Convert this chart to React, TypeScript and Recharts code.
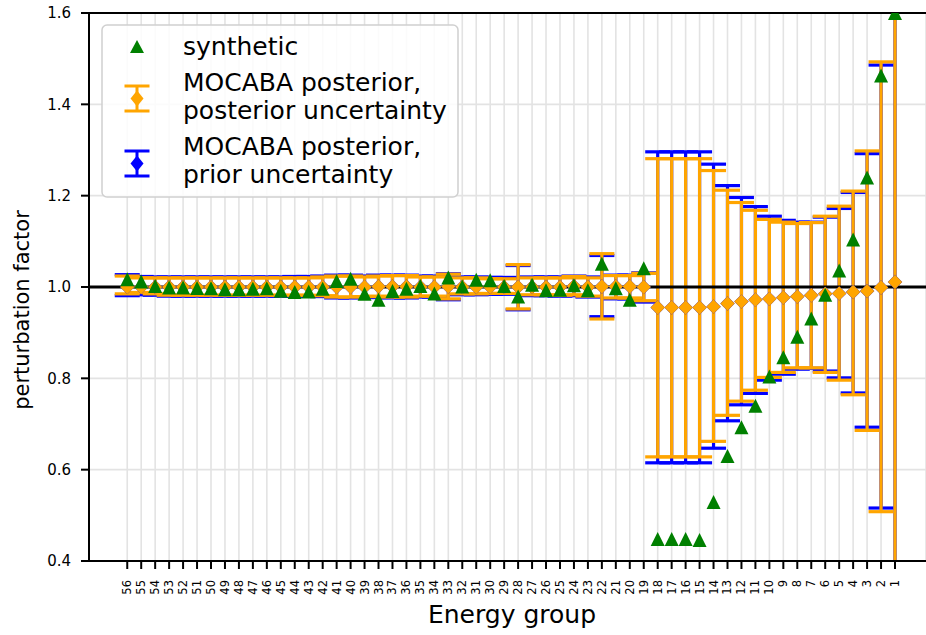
import React from 'react';
import { ComposedChart, Scatter, XAxis, YAxis, CartesianGrid, ErrorBar, ReferenceLine } from 'recharts';

const groups = [56,55,54,53,52,51,50,49,48,47,46,45,44,43,42,41,40,39,38,37,36,35,34,33,32,31,30,29,28,27,26,25,24,23,22,21,20,19,18,17,16,15,14,13,12,11,10,9,8,7,6,5,4,3,2,1];

const synthetic = [1.017,1.012,1.002,0.999,0.999,0.998,0.997,0.995,0.995,0.996,0.997,0.992,0.989,0.990,0.996,1.013,1.018,0.985,0.972,0.991,0.996,1.002,0.986,1.021,1.001,1.016,1.015,1.002,0.979,1.005,0.993,0.994,1.004,0.993,1.051,0.997,0.972,1.041,
  0.448,0.448,0.448,0.446,0.529,0.630,0.693,0.740,0.804,0.846,0.891,0.931,0.983,1.036,1.104,1.240,1.463,1.600];

const posterior = [1.000,1.000,1.000,1.000,1.000,1.000,1.000,1.000,1.000,1.000,1.000,1.000,1.000,1.000,1.000,1.000,1.000,1.000,1.001,1.001,1.001,1.000,1.000,1.001,1.000,1.000,1.000,1.000,1.000,1.000,1.000,1.000,1.002,1.000,1.001,1.001,1.001,1.000,
  0.955,0.955,0.955,0.955,0.957,0.964,0.968,0.972,0.974,0.977,0.979,0.982,0.985,0.986,0.989,0.991,0.999,1.011];

const posteriorHigh = [1.024,1.020,1.020,1.020,1.020,1.020,1.020,1.020,1.020,1.020,1.020,1.020,1.020,1.020,1.022,1.024,1.024,1.022,1.024,1.025,1.025,1.022,1.022,1.028,1.020,1.020,1.018,1.018,1.049,1.020,1.020,1.020,1.023,1.020,1.073,1.025,1.025,1.030,
  1.281,1.281,1.281,1.281,1.255,1.212,1.185,1.168,1.148,1.142,1.139,1.141,1.155,1.177,1.210,1.298,1.493,1.850];
const posteriorLow = [0.985,0.988,0.985,0.982,0.982,0.982,0.982,0.982,0.982,0.982,0.982,0.982,0.982,0.982,0.981,0.978,0.978,0.979,0.980,0.978,0.978,0.980,0.980,0.974,0.985,0.985,0.986,0.986,0.952,0.983,0.983,0.982,0.983,0.980,0.930,0.976,0.976,0.970,
  0.628,0.628,0.628,0.628,0.662,0.719,0.750,0.774,0.802,0.813,0.823,0.823,0.813,0.796,0.764,0.686,0.508,0.170];

const priorHigh = [1.027,1.023,1.022,1.022,1.022,1.022,1.022,1.022,1.022,1.022,1.022,1.022,1.023,1.023,1.024,1.026,1.026,1.024,1.026,1.026,1.026,1.024,1.024,1.029,1.022,1.022,1.021,1.021,1.047,1.022,1.022,1.022,1.024,1.022,1.069,1.026,1.026,1.031,
  1.296,1.296,1.296,1.296,1.269,1.222,1.196,1.176,1.155,1.146,1.142,1.142,1.153,1.172,1.207,1.292,1.486,1.840];
const priorLow = [0.981,0.983,0.982,0.980,0.980,0.980,0.980,0.980,0.980,0.980,0.980,0.980,0.980,0.980,0.979,0.976,0.976,0.977,0.977,0.976,0.976,0.978,0.978,0.972,0.983,0.983,0.984,0.984,0.950,0.981,0.981,0.980,0.981,0.978,0.935,0.974,0.974,0.967,
  0.615,0.615,0.615,0.615,0.647,0.707,0.742,0.767,0.796,0.809,0.820,0.822,0.816,0.801,0.768,0.693,0.516,0.180];

const yTicks = [0.4, 0.6, 0.8, 1.0, 1.2, 1.4, 1.6];

const FONT = '"DejaVu Sans", sans-serif';
const ORANGE = '#ffa500';
const BLUE = '#0000ff';
const GREEN = '#008000';
const CLIP = 'url(#plotAreaClip)';

const rows = groups.map((g, i) => ({
  g,
  syn: synthetic[i],
  post: posterior[i],
  ePost: [posterior[i] - posteriorLow[i], posteriorHigh[i] - posterior[i]],
  ePrior: [posterior[i] - priorLow[i], priorHigh[i] - posterior[i]],
}));

const Triangle = (props: any) => {
  const { cx, cy } = props;
  const h = 7;
  return <polygon clipPath={CLIP} points={`${cx},${cy - h} ${cx - h},${cy + h} ${cx + h},${cy + h}`} fill={GREEN} />;
};
const makeDiamond = (color: string) => (props: any) => {
  const { cx, cy } = props;
  const h = 7.2;
  return <polygon clipPath={CLIP} points={`${cx},${cy - h} ${cx + h},${cy} ${cx},${cy + h} ${cx - h},${cy}`} fill={color} />;
};
const BlueDiamond = makeDiamond(BLUE);
const OrangeDiamond = makeDiamond(ORANGE);

const XTick = (props: any) => {
  const { x, y, payload } = props;
  return (
    <text x={x} y={y} transform={`rotate(-90 ${x} ${y})`} textAnchor="end" dominantBaseline="central"
      fontSize={11.5} fontFamily={FONT} fill="#000">{payload.value}</text>
  );
};

const LegendSymbol = ({ x, y, color }: { x: number; y: number; color: string }) => (
  <g>
    <line x1={x} y1={y - 12.5} x2={x} y2={y + 12.5} stroke={color} strokeWidth={3} />
    <line x1={x - 12.5} y1={y - 12.5} x2={x + 12.5} y2={y - 12.5} stroke={color} strokeWidth={3} />
    <line x1={x - 12.5} y1={y + 12.5} x2={x + 12.5} y2={y + 12.5} stroke={color} strokeWidth={3} />
    <polygon points={`${x},${y - 8} ${x + 6.5},${y} ${x},${y + 8} ${x - 6.5},${y}`} fill={color} />
  </g>
);

export default function App() {
  return (
    <div style={{ position: 'absolute', left: 0, top: 0, width: 926, height: 635, background: '#fff' }}>
      <svg width={0} height={0} style={{ position: 'absolute' }}>
        <defs>
          <clipPath id="plotAreaClip" clipPathUnits="userSpaceOnUse">
            <rect x={89} y={13} width={837} height={548} />
          </clipPath>
        </defs>
      </svg>
      <ComposedChart width={926} height={635} data={rows} margin={{ top: 13, right: 0, left: 0, bottom: 0 }}>
        <CartesianGrid stroke="#e3e3e3" strokeWidth={1.6} />
        <XAxis dataKey="g" type="number" domain={[-1.22, 58.74]} reversed allowDataOverflow ticks={groups} interval={0}
          tick={<XTick />} tickSize={8} tickMargin={11} height={74}
          axisLine={{ stroke: '#000', strokeWidth: 2 }} tickLine={{ stroke: '#000', strokeWidth: 2 }} />
        <YAxis type="number" domain={[0.4, 1.6]} allowDataOverflow ticks={yTicks} interval={0} width={89}
          tickFormatter={(v: number) => v.toFixed(1)} tickSize={8} tickMargin={10}
          tick={{ fontSize: 15, fill: '#000', fontFamily: FONT }}
          axisLine={{ stroke: '#000', strokeWidth: 2 }} tickLine={{ stroke: '#000', strokeWidth: 2 }} />
        <ReferenceLine y={1.6} stroke="#000" strokeWidth={2} />
        <Scatter dataKey="post" isAnimationActive={false} shape={BlueDiamond}>
          <ErrorBar dataKey="ePrior" width={12.5} strokeWidth={3.2} stroke={BLUE} direction="y" clipPath={CLIP} isAnimationActive={false} />
        </Scatter>
        <Scatter dataKey="post" isAnimationActive={false} shape={OrangeDiamond}>
          <ErrorBar dataKey="ePost" width={12.5} strokeWidth={3.2} stroke={ORANGE} direction="y" clipPath={CLIP} isAnimationActive={false} />
        </Scatter>
        <ReferenceLine y={1.0} stroke="#000" strokeWidth={3} />
        <Scatter dataKey="syn" isAnimationActive={false} shape={Triangle} />
      </ComposedChart>
      <svg width={926} height={635} style={{ position: 'absolute', left: 0, top: 0, pointerEvents: 'none' }} fontFamily={FONT}>
        <text x={22} y={310} transform="rotate(-90 22 310)" textAnchor="middle" dominantBaseline="central" fontSize={21} fill="#000">perturbation factor</text>
        <text x={512} y={614} textAnchor="middle" dominantBaseline="central" fontSize={25} fill="#000">Energy group</text>
        <rect x={102} y={25} width={356} height={172} rx={5} ry={5} fill="#fff" fillOpacity={0.85} stroke="#d0d0d0" strokeWidth={1.5} />
        <polygon points="137,40 130,53 144,53" fill={GREEN} />
        <text x={183} y={55} fontSize={25} fill="#000">synthetic</text>
        <LegendSymbol x={137} y={98.5} color={ORANGE} />
        <text x={183} y={91} fontSize={25} fill="#000">MOCABA posterior,</text>
        <text x={183} y={119} fontSize={25} fill="#000">posterior uncertainty</text>
        <LegendSymbol x={137} y={163.5} color={BLUE} />
        <text x={183} y={155} fontSize={25} fill="#000">MOCABA posterior,</text>
        <text x={183} y={183} fontSize={25} fill="#000">prior uncertainty</text>
      </svg>
    </div>
  );
}
